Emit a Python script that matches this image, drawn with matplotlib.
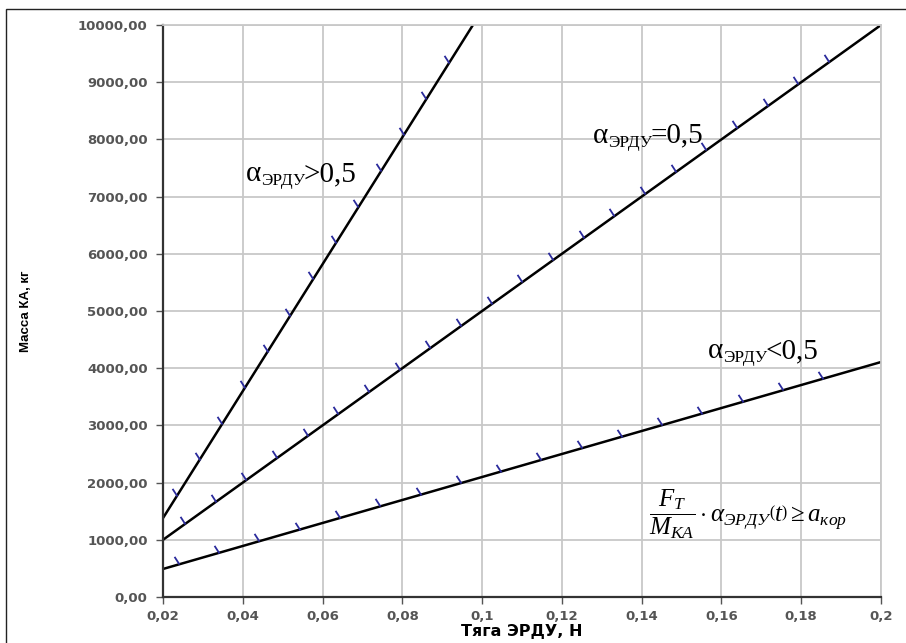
import numpy as np
import matplotlib
matplotlib.use("Agg")
import matplotlib.pyplot as plt
from matplotlib.patches import Rectangle

plt.rcParams["mathtext.fontset"] = "custom"
plt.rcParams["mathtext.rm"] = "Liberation Serif"
plt.rcParams["mathtext.it"] = "Liberation Serif:italic"

# thrust of the electric propulsion unit, N  /  spacecraft mass, kg
thrust_hi = [0.02, 0.0977]
mass_hi = [1380.0, 10000.0]      # alpha > 0.5
thrust_mid = [0.02, 0.2]
mass_mid = [1000.0, 10000.0]     # alpha = 0.5
thrust_lo = [0.02, 0.2]
mass_lo = [490.0, 4108.0]        # alpha < 0.5

x_ticks = [0.02, 0.04, 0.06, 0.08, 0.1, 0.12, 0.14, 0.16, 0.18, 0.2]
y_ticks = [0, 1000, 2000, 3000, 4000, 5000, 6000, 7000, 8000, 9000, 10000]

x_labels = [f"{v:g}".replace(".", ",") for v in x_ticks]
y_labels = [f"{v:.2f}".replace(".", ",") for v in y_ticks]

fig = plt.figure(figsize=(9.06, 6.43), dpi=100)
ax = fig.add_axes([163 / 906, 1 - 597 / 643, 718 / 906, 572 / 643])

# outer frame (only top and left edges fall inside the image)
fig.patches.append(Rectangle((6 / 906, -0.1), 1.2, 1.1 - 9 / 643,
                             transform=fig.transFigure, fill=False,
                             edgecolor="#222222", lw=1.0))

ax.set_xlim(0.02, 0.2)
ax.set_ylim(0, 10000)
ax.set_xticks(x_ticks)
ax.set_xticklabels(x_labels)
ax.set_yticks(y_ticks)
ax.set_yticklabels(y_labels)
ax.grid(True, color="#c8c8c8", lw=1.3)
ax.set_axisbelow(True)

for side in ("top", "right"):
    ax.spines[side].set_color("#c8c8c8")
    ax.spines[side].set_linewidth(1.3)
for side in ("left", "bottom"):
    ax.spines[side].set_color("#333333")
    ax.spines[side].set_linewidth(1.6)

ax.tick_params(axis="both", direction="out", length=5, width=1.0,
               colors="#555555", labelsize=9.5, labelcolor="#555555")
ax.tick_params(axis="y", pad=6)
ax.tick_params(axis="x", pad=4)
for lab in ax.get_xticklabels() + ax.get_yticklabels():
    lab.set_fontweight("bold")
    lab.set_family("DejaVu Sans")

ax.set_xlabel("Тяга ЭРДУ, Н", fontsize=11.5, fontweight="bold",
              family="DejaVu Sans", labelpad=1)
ax.set_ylabel("Масса КА, кг", fontsize=9.5, fontweight="bold",
              family="Liberation Sans")
ax.yaxis.set_label_coords(-0.1825, 0.5)

# boundary lines plus the hatch ticks marking the allowed side
hatch = [(0.0, 0.0), (-0.55, 0.85)]
series = [
    (thrust_hi, mass_hi, 0.0235, 0.0917, 13),
    (thrust_mid, mass_mid, 0.0255, 0.187, 22),
    (thrust_lo, mass_lo, 0.024, 0.1855, 17),
]
for fx, my, f0, f1, n in series:
    ax.plot(fx, my, color="black", lw=1.8, solid_capstyle="butt")
    ft = np.linspace(f0, f1, n)
    mt = np.interp(ft, fx, my)
    ax.plot(ft, mt, ls="none", marker=hatch, ms=11,
            mfc="none", mec="#2a2a9c", mew=1.3)


def alpha_label(x, y, rel):
    serif = "Liberation Serif"
    t1 = ax.text(x, y, "α", fontsize=21, family=serif, va="baseline",
                 ha="left")
    t2 = ax.annotate("ЭРДУ", xy=(1, 0), xycoords=t1, xytext=(0, -1.5),
                     textcoords="offset points", fontsize=12.5,
                     family=serif, va="bottom", ha="left")
    ax.annotate(rel, xy=(1, 0), xycoords=t2, xytext=(-1, 1.5),
                textcoords="offset points", fontsize=21,
                family=serif, va="bottom", ha="left")


alpha_label(0.0408, 7270, ">0,5")
alpha_label(0.1278, 7940, "=0,5")
alpha_label(0.1566, 4180, "<0,5")

ax.text(0.1666, 1434,
        r"$\dfrac{F_T}{M_{KA}}\cdot\alpha_{ЭРДУ}\left(t\right)\geq a_{кор}$",
        fontsize=18, ha="center", va="center")

fig.savefig("out.png", dpi=100)
